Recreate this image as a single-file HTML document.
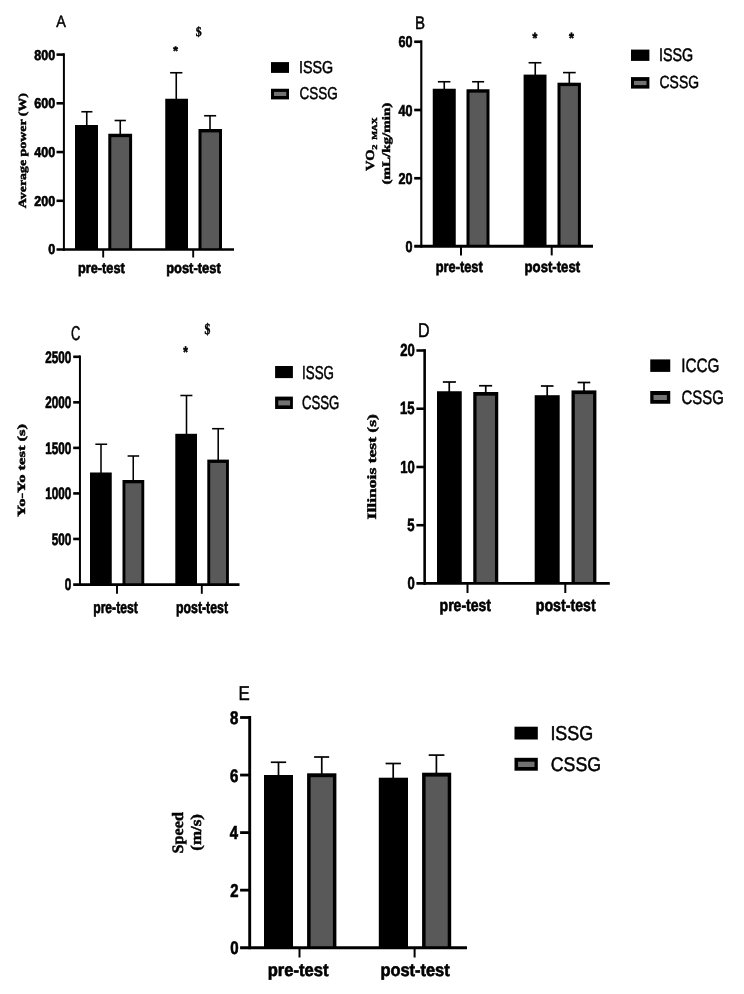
<!DOCTYPE html>
<html lang="en"><head><meta charset="utf-8"><title>Figure</title>
<style>html,body{margin:0;padding:0;background:#fff}svg{display:block}text{white-space:pre;text-rendering:geometricPrecision}</style></head>
<body><svg width="744" height="994" viewBox="0 0 744 994">
<rect width="744" height="994" fill="#fff"/>
<g>
<rect x="75" y="125" width="23" height="124.5" fill="#000"/>
<rect x="108.3" y="133.75" width="23.8" height="115.75" fill="#000"/>
<rect x="111.3" y="137.15" width="17.8" height="112.35" fill="#595959"/>
<rect x="165.25" y="98.75" width="22.75" height="150.75" fill="#000"/>
<rect x="198.5" y="129" width="23.5" height="120.5" fill="#000"/>
<rect x="201.5" y="132.4" width="17.5" height="117.1" fill="#595959"/>
<line x1="86.75" y1="111.75" x2="86.75" y2="126" stroke="#000" stroke-width="1.6"/>
<line x1="81.35" y1="111.75" x2="92.4" y2="111.75" stroke="#000" stroke-width="1.6"/>
<line x1="120.25" y1="120.5" x2="120.25" y2="134.75" stroke="#000" stroke-width="1.6"/>
<line x1="114.6" y1="120.5" x2="125.9" y2="120.5" stroke="#000" stroke-width="1.6"/>
<line x1="176.25" y1="72.75" x2="176.25" y2="99.75" stroke="#000" stroke-width="1.6"/>
<line x1="170.1" y1="72.75" x2="182.4" y2="72.75" stroke="#000" stroke-width="1.6"/>
<line x1="210" y1="115.75" x2="210" y2="130" stroke="#000" stroke-width="1.6"/>
<line x1="204.1" y1="115.75" x2="216.15" y2="115.75" stroke="#000" stroke-width="1.6"/>
<line x1="63.9" y1="53.25" x2="63.9" y2="250.85" stroke="#000" stroke-width="2"/>
<line x1="56.5" y1="249.5" x2="234" y2="249.5" stroke="#000" stroke-width="2.7"/>
<line x1="56.5" y1="54.6" x2="63.9" y2="54.6" stroke="#000" stroke-width="2.56"/>
<line x1="56.5" y1="103.3" x2="63.9" y2="103.3" stroke="#000" stroke-width="2.56"/>
<line x1="56.5" y1="152.05" x2="63.9" y2="152.05" stroke="#000" stroke-width="2.56"/>
<line x1="56.5" y1="200.8" x2="63.9" y2="200.8" stroke="#000" stroke-width="2.56"/>
<line x1="103.2" y1="249.5" x2="103.2" y2="257.5" stroke="#000" stroke-width="1.9"/>
<line x1="193.2" y1="249.5" x2="193.2" y2="257.5" stroke="#000" stroke-width="1.9"/>
</g><g>
<text transform="translate(34.33,59.51) scale(0.88,1)" font-family='"Liberation Sans", sans-serif' font-weight="700" font-size="14.23" fill="#000" stroke="#000" stroke-width="0.65">800</text>
<text transform="translate(34.33,108.21) scale(0.88,1)" font-family='"Liberation Sans", sans-serif' font-weight="700" font-size="14.23" fill="#000" stroke="#000" stroke-width="0.65">600</text>
<text transform="translate(34.33,156.96) scale(0.88,1)" font-family='"Liberation Sans", sans-serif' font-weight="700" font-size="14.23" fill="#000" stroke="#000" stroke-width="0.65">400</text>
<text transform="translate(34.33,205.71) scale(0.88,1)" font-family='"Liberation Sans", sans-serif' font-weight="700" font-size="14.23" fill="#000" stroke="#000" stroke-width="0.65">200</text>
<text transform="translate(48.17,254.41) scale(0.88,1)" font-family='"Liberation Sans", sans-serif' font-weight="700" font-size="14.23" fill="#000" stroke="#000" stroke-width="0.65">0</text>
<text transform="translate(77.92,273.09) scale(0.85,1)" font-family='"Liberation Sans", sans-serif' font-weight="700" font-size="15.03" fill="#000" stroke="#000" stroke-width="0.65">pre-test</text>
<text transform="translate(166.16,273.09) scale(0.86,1)" font-family='"Liberation Sans", sans-serif' font-weight="700" font-size="15.03" fill="#000" stroke="#000" stroke-width="0.65">post-test</text>
<text transform="translate(56.2,26.7) scale(0.87,1)" font-family='"Liberation Sans", sans-serif' font-weight="400" font-size="16.52" fill="#000" stroke="#000" stroke-width="0.5">A</text>
<rect x="271" y="62.1" width="18" height="10.8" fill="#000"/>
<rect x="271" y="88.75" width="18" height="10.65" fill="#000"/>
<rect x="274" y="91.9" width="12.25" height="4.1" fill="#727272"/>
<text transform="translate(298.96,73.33) scale(0.83,1)" font-family='"Liberation Sans", sans-serif' font-weight="400" font-size="17.25" fill="#000" stroke="#000" stroke-width="0.5">ISSG</text>
<text transform="translate(299.57,99.23) scale(0.79,1)" font-family='"Liberation Sans", sans-serif' font-weight="400" font-size="17.11" fill="#000" stroke="#000" stroke-width="0.5">CSSG</text>
<text transform="translate(195.69,35.71) scale(0.89,1)" font-family='"Liberation Serif", serif' font-weight="700" font-size="13.21" fill="#000" stroke="#000" stroke-width="0.45">$</text>
<text transform="translate(173.34,55.08) scale(0.95,1)" font-family='"Liberation Sans", sans-serif' font-weight="700" font-size="12.43" fill="#000" stroke="#000" stroke-width="0.65">*</text>
<text transform="translate(26.2,208.14) rotate(-90) scale(1.2715,1)" font-family='"Liberation Serif", serif' font-weight="700" font-size="10.91" fill="#000" stroke="#000" stroke-width="0.45">Average power (W)</text>
</g>
<g>
<rect x="432.75" y="88.75" width="23" height="157.5" fill="#000"/>
<rect x="466.5" y="89.25" width="23" height="157" fill="#000"/>
<rect x="469.5" y="92.65" width="17" height="153.6" fill="#595959"/>
<rect x="523.6" y="74.6" width="22.9" height="171.65" fill="#000"/>
<rect x="557.5" y="82.7" width="23.4" height="163.55" fill="#000"/>
<rect x="560.5" y="86.1" width="17.4" height="160.15" fill="#595959"/>
<line x1="444.25" y1="81.75" x2="444.25" y2="89.75" stroke="#000" stroke-width="1.6"/>
<line x1="437.85" y1="81.75" x2="450.4" y2="81.75" stroke="#000" stroke-width="1.6"/>
<line x1="478.25" y1="81.75" x2="478.25" y2="90.25" stroke="#000" stroke-width="1.6"/>
<line x1="472.1" y1="81.75" x2="484.15" y2="81.75" stroke="#000" stroke-width="1.6"/>
<line x1="535.25" y1="62.75" x2="535.25" y2="75.6" stroke="#000" stroke-width="1.6"/>
<line x1="528.6" y1="62.75" x2="541.4" y2="62.75" stroke="#000" stroke-width="1.6"/>
<line x1="569.3" y1="72.6" x2="569.3" y2="83.7" stroke="#000" stroke-width="1.6"/>
<line x1="563" y1="72.6" x2="575.7" y2="72.6" stroke="#000" stroke-width="1.6"/>
<line x1="421.3" y1="40.35" x2="421.3" y2="247.65" stroke="#000" stroke-width="2.15"/>
<line x1="414.2" y1="246.25" x2="593" y2="246.25" stroke="#000" stroke-width="2.8"/>
<line x1="414.2" y1="41.75" x2="421.3" y2="41.75" stroke="#000" stroke-width="2.66"/>
<line x1="414.2" y1="110" x2="421.3" y2="110" stroke="#000" stroke-width="2.66"/>
<line x1="414.2" y1="178.25" x2="421.3" y2="178.25" stroke="#000" stroke-width="2.66"/>
<line x1="461" y1="246.25" x2="461" y2="255.4" stroke="#000" stroke-width="2"/>
<line x1="551.7" y1="246.25" x2="551.7" y2="255.4" stroke="#000" stroke-width="2"/>
</g><g>
<text transform="translate(398.46,47.39) scale(0.8,1)" font-family='"Liberation Sans", sans-serif' font-weight="700" font-size="15.77" fill="#000" stroke="#000" stroke-width="0.65">60</text>
<text transform="translate(398.46,115.64) scale(0.8,1)" font-family='"Liberation Sans", sans-serif' font-weight="700" font-size="15.77" fill="#000" stroke="#000" stroke-width="0.65">40</text>
<text transform="translate(398.46,183.89) scale(0.8,1)" font-family='"Liberation Sans", sans-serif' font-weight="700" font-size="15.77" fill="#000" stroke="#000" stroke-width="0.65">20</text>
<text transform="translate(405.48,251.89) scale(0.8,1)" font-family='"Liberation Sans", sans-serif' font-weight="700" font-size="15.77" fill="#000" stroke="#000" stroke-width="0.65">0</text>
<text transform="translate(435.66,272.1) scale(0.83,1)" font-family='"Liberation Sans", sans-serif' font-weight="700" font-size="15.49" fill="#000" stroke="#000" stroke-width="0.65">pre-test</text>
<text transform="translate(524.55,272.1) scale(0.85,1)" font-family='"Liberation Sans", sans-serif' font-weight="700" font-size="15.49" fill="#000" stroke="#000" stroke-width="0.65">post-test</text>
<text transform="translate(415.05,29) scale(0.83,1)" font-family='"Liberation Sans", sans-serif' font-weight="400" font-size="18.12" fill="#000" stroke="#000" stroke-width="0.5">B</text>
<rect x="631" y="49.6" width="18.4" height="11.3" fill="#000"/>
<rect x="631" y="77.1" width="18.4" height="11.5" fill="#000"/>
<rect x="634" y="80.9" width="12.5" height="4.2" fill="#727272"/>
<text transform="translate(658.96,61.32) scale(0.79,1)" font-family='"Liberation Sans", sans-serif' font-weight="400" font-size="18.17" fill="#000" stroke="#000" stroke-width="0.5">ISSG</text>
<text transform="translate(659.55,88.42) scale(0.79,1)" font-family='"Liberation Sans", sans-serif' font-weight="400" font-size="17.61" fill="#000" stroke="#000" stroke-width="0.5">CSSG</text>
<text transform="translate(532.44,42.76) scale(0.83,1)" font-family='"Liberation Sans", sans-serif' font-weight="700" font-size="14.86" fill="#000" stroke="#000" stroke-width="0.65">*</text>
<text transform="translate(568.94,42.76) scale(0.85,1)" font-family='"Liberation Sans", sans-serif' font-weight="700" font-size="14.86" fill="#000" stroke="#000" stroke-width="0.65">*</text>
<text transform="translate(373.92,171.05) rotate(-90) scale(1.1798,1)" font-family='"Liberation Serif", serif' font-weight="700" font-size="12.3" fill="#000" stroke="#000" stroke-width="0.45">VO</text>
<text transform="translate(376.9,149.72) rotate(-90) scale(1.4405,1)" font-family='"Liberation Serif", serif' font-weight="700" font-size="7.27" fill="#000" stroke="#000" stroke-width="0.45">2</text>
<text transform="translate(376.9,139.84) rotate(-90) scale(1.2361,1)" font-family='"Liberation Serif", serif' font-weight="700" font-size="7.58" fill="#000" stroke="#000" stroke-width="0.45">MAX</text>
<text transform="translate(389.68,184.58) rotate(-90) scale(1.3116,1)" font-family='"Liberation Serif", serif' font-weight="700" font-size="11.48" fill="#000" stroke="#000" stroke-width="0.45">(mL/kg/min)</text>
</g>
<g>
<rect x="90" y="472.5" width="21.75" height="112" fill="#000"/>
<rect x="122.5" y="480" width="21.75" height="104.5" fill="#000"/>
<rect x="125.4" y="483.3" width="15.95" height="101.2" fill="#595959"/>
<rect x="175.3" y="433.8" width="21.7" height="150.7" fill="#000"/>
<rect x="207.3" y="459.6" width="21.6" height="124.9" fill="#000"/>
<rect x="210.2" y="462.9" width="15.8" height="121.6" fill="#595959"/>
<line x1="101" y1="444.25" x2="101" y2="473.5" stroke="#000" stroke-width="1.55"/>
<line x1="95.35" y1="444.25" x2="107.15" y2="444.25" stroke="#000" stroke-width="1.55"/>
<line x1="133.25" y1="456" x2="133.25" y2="481" stroke="#000" stroke-width="1.55"/>
<line x1="127.6" y1="456" x2="139.15" y2="456" stroke="#000" stroke-width="1.55"/>
<line x1="186.5" y1="395.5" x2="186.5" y2="434.8" stroke="#000" stroke-width="1.55"/>
<line x1="180.35" y1="395.5" x2="192.4" y2="395.5" stroke="#000" stroke-width="1.55"/>
<line x1="218.2" y1="428.7" x2="218.2" y2="460.6" stroke="#000" stroke-width="1.55"/>
<line x1="212.1" y1="428.7" x2="224.1" y2="428.7" stroke="#000" stroke-width="1.55"/>
<line x1="79.95" y1="355.43" x2="79.95" y2="585.88" stroke="#000" stroke-width="2"/>
<line x1="73.2" y1="584.5" x2="239.5" y2="584.5" stroke="#000" stroke-width="2.75"/>
<line x1="73.2" y1="356.8" x2="79.95" y2="356.8" stroke="#000" stroke-width="2.61"/>
<line x1="73.2" y1="402.34" x2="79.95" y2="402.34" stroke="#000" stroke-width="2.61"/>
<line x1="73.2" y1="447.88" x2="79.95" y2="447.88" stroke="#000" stroke-width="2.61"/>
<line x1="73.2" y1="493.42" x2="79.95" y2="493.42" stroke="#000" stroke-width="2.61"/>
<line x1="73.2" y1="538.96" x2="79.95" y2="538.96" stroke="#000" stroke-width="2.61"/>
<line x1="117" y1="584.5" x2="117" y2="593.8" stroke="#000" stroke-width="1.9"/>
<line x1="201.8" y1="584.5" x2="201.8" y2="593.8" stroke="#000" stroke-width="1.9"/>
</g><g>
<text transform="translate(45.19,362.78) scale(0.7,1)" font-family='"Liberation Sans", sans-serif' font-weight="700" font-size="16.76" fill="#000" stroke="#000" stroke-width="0.65">2500</text>
<text transform="translate(45.19,408.32) scale(0.7,1)" font-family='"Liberation Sans", sans-serif' font-weight="700" font-size="16.76" fill="#000" stroke="#000" stroke-width="0.65">2000</text>
<text transform="translate(45.19,453.86) scale(0.7,1)" font-family='"Liberation Sans", sans-serif' font-weight="700" font-size="16.76" fill="#000" stroke="#000" stroke-width="0.65">1500</text>
<text transform="translate(45.19,499.4) scale(0.7,1)" font-family='"Liberation Sans", sans-serif' font-weight="700" font-size="16.76" fill="#000" stroke="#000" stroke-width="0.65">1000</text>
<text transform="translate(51.73,544.94) scale(0.7,1)" font-family='"Liberation Sans", sans-serif' font-weight="700" font-size="16.76" fill="#000" stroke="#000" stroke-width="0.65">500</text>
<text transform="translate(64.69,590.48) scale(0.7,1)" font-family='"Liberation Sans", sans-serif' font-weight="700" font-size="16.76" fill="#000" stroke="#000" stroke-width="0.65">0</text>
<text transform="translate(93.21,612.5) scale(0.73,1)" font-family='"Liberation Sans", sans-serif' font-weight="700" font-size="16.65" fill="#000" stroke="#000" stroke-width="0.65">pre-test</text>
<text transform="translate(175.99,612.5) scale(0.74,1)" font-family='"Liberation Sans", sans-serif' font-weight="700" font-size="16.65" fill="#000" stroke="#000" stroke-width="0.65">post-test</text>
<text transform="translate(71.1,339.75) scale(0.65,1)" font-family='"Liberation Sans", sans-serif' font-weight="400" font-size="20" fill="#000" stroke="#000" stroke-width="0.5">C</text>
<rect x="275.1" y="366" width="17.8" height="12.1" fill="#000"/>
<rect x="275.1" y="396.6" width="17.8" height="12.4" fill="#000"/>
<rect x="278.25" y="400.4" width="11.85" height="5" fill="#727272"/>
<text transform="translate(302.05,378.56) scale(0.71,1)" font-family='"Liberation Sans", sans-serif' font-weight="400" font-size="18.8" fill="#000" stroke="#000" stroke-width="0.5">ISSG</text>
<text transform="translate(301.94,408.81) scale(0.7,1)" font-family='"Liberation Sans", sans-serif' font-weight="400" font-size="18.87" fill="#000" stroke="#000" stroke-width="0.5">CSSG</text>
<text transform="translate(204.49,333.95) scale(0.76,1)" font-family='"Liberation Serif", serif' font-weight="700" font-size="15.35" fill="#000" stroke="#000" stroke-width="0.45">$</text>
<text transform="translate(183.24,357.04) scale(0.78,1)" font-family='"Liberation Sans", sans-serif' font-weight="700" font-size="15.14" fill="#000" stroke="#000" stroke-width="0.65">*</text>
<text transform="translate(24.9,516.95) rotate(-90) scale(1.5096,1)" font-family='"Liberation Serif", serif' font-weight="700" font-size="10.99" fill="#000" stroke="#000" stroke-width="0.45">Yo-Yo test (s)</text>
</g>
<g>
<rect x="437" y="391.25" width="24.75" height="192.2" fill="#000"/>
<rect x="473.25" y="392" width="25" height="191.45" fill="#000"/>
<rect x="476.55" y="395.7" width="18.4" height="187.75" fill="#595959"/>
<rect x="534.7" y="395.2" width="25" height="188.25" fill="#000"/>
<rect x="571.5" y="390.4" width="24.9" height="193.05" fill="#000"/>
<rect x="574.8" y="394.1" width="18.3" height="189.35" fill="#595959"/>
<line x1="449.25" y1="382" x2="449.25" y2="392.25" stroke="#000" stroke-width="1.7"/>
<line x1="442.85" y1="382" x2="455.9" y2="382" stroke="#000" stroke-width="1.7"/>
<line x1="485.75" y1="385.75" x2="485.75" y2="393" stroke="#000" stroke-width="1.7"/>
<line x1="479.1" y1="385.75" x2="492.15" y2="385.75" stroke="#000" stroke-width="1.7"/>
<line x1="547.2" y1="386" x2="547.2" y2="396.2" stroke="#000" stroke-width="1.7"/>
<line x1="540.9" y1="386" x2="553.5" y2="386" stroke="#000" stroke-width="1.7"/>
<line x1="584" y1="382.5" x2="584" y2="391.4" stroke="#000" stroke-width="1.7"/>
<line x1="577.6" y1="382.5" x2="590.3" y2="382.5" stroke="#000" stroke-width="1.7"/>
<line x1="424.65" y1="349.15" x2="424.65" y2="584.8" stroke="#000" stroke-width="2.6"/>
<line x1="416.4" y1="583.45" x2="609.8" y2="583.45" stroke="#000" stroke-width="2.7"/>
<line x1="416.4" y1="350.5" x2="424.65" y2="350.5" stroke="#000" stroke-width="2.56"/>
<line x1="416.4" y1="408.74" x2="424.65" y2="408.74" stroke="#000" stroke-width="2.56"/>
<line x1="416.4" y1="466.98" x2="424.65" y2="466.98" stroke="#000" stroke-width="2.56"/>
<line x1="416.4" y1="525.2" x2="424.65" y2="525.2" stroke="#000" stroke-width="2.56"/>
<line x1="467.5" y1="583.45" x2="467.5" y2="593" stroke="#000" stroke-width="2"/>
<line x1="565.3" y1="583.45" x2="565.3" y2="593" stroke="#000" stroke-width="2"/>
</g><g>
<text transform="translate(400.24,356.23) scale(0.75,1)" font-family='"Liberation Sans", sans-serif' font-weight="700" font-size="17.46" fill="#000" stroke="#000" stroke-width="0.65">20</text>
<text transform="translate(400.05,414.46) scale(0.74,1)" font-family='"Liberation Sans", sans-serif' font-weight="700" font-size="17.71" fill="#000" stroke="#000" stroke-width="0.65">15</text>
<text transform="translate(400.24,472.71) scale(0.75,1)" font-family='"Liberation Sans", sans-serif' font-weight="700" font-size="17.46" fill="#000" stroke="#000" stroke-width="0.65">10</text>
<text transform="translate(407.29,530.92) scale(0.74,1)" font-family='"Liberation Sans", sans-serif' font-weight="700" font-size="17.71" fill="#000" stroke="#000" stroke-width="0.65">5</text>
<text transform="translate(407.48,589.18) scale(0.75,1)" font-family='"Liberation Sans", sans-serif' font-weight="700" font-size="17.46" fill="#000" stroke="#000" stroke-width="0.65">0</text>
<text transform="translate(439.59,611.21) scale(0.82,1)" font-family='"Liberation Sans", sans-serif' font-weight="700" font-size="17.11" fill="#000" stroke="#000" stroke-width="0.65">pre-test</text>
<text transform="translate(535.77,611.21) scale(0.83,1)" font-family='"Liberation Sans", sans-serif' font-weight="700" font-size="17.11" fill="#000" stroke="#000" stroke-width="0.65">post-test</text>
<text transform="translate(417.97,336.6) scale(0.81,1)" font-family='"Liberation Sans", sans-serif' font-weight="400" font-size="19.86" fill="#000" stroke="#000" stroke-width="0.5">D</text>
<rect x="650.25" y="359.4" width="20" height="12.5" fill="#000"/>
<rect x="650.25" y="391" width="20" height="12.75" fill="#000"/>
<rect x="653.5" y="395" width="13.4" height="5" fill="#727272"/>
<text transform="translate(681.13,372.06) scale(0.79,1)" font-family='"Liberation Sans", sans-serif' font-weight="400" font-size="19.37" fill="#000" stroke="#000" stroke-width="0.5">ICCG</text>
<text transform="translate(681.5,403.56) scale(0.77,1)" font-family='"Liberation Sans", sans-serif' font-weight="400" font-size="19.37" fill="#000" stroke="#000" stroke-width="0.5">CSSG</text>
<text transform="translate(375.9,519.41) rotate(-90) scale(1.3864,1)" font-family='"Liberation Serif", serif' font-weight="700" font-size="12.67" fill="#000" stroke="#000" stroke-width="0.45">Illinois test (s)</text>
</g>
<g>
<rect x="264" y="775" width="29" height="172.7" fill="#000"/>
<rect x="307.1" y="773.3" width="29.3" height="174.4" fill="#000"/>
<rect x="310.6" y="777.2" width="22.3" height="170.5" fill="#595959"/>
<rect x="378.8" y="777.7" width="29.2" height="170" fill="#000"/>
<rect x="422.1" y="772.7" width="29.1" height="175" fill="#000"/>
<rect x="425.6" y="776.6" width="22.1" height="171.1" fill="#595959"/>
<line x1="278.5" y1="762.25" x2="278.5" y2="776" stroke="#000" stroke-width="1.7"/>
<line x1="270.85" y1="762.25" x2="286.15" y2="762.25" stroke="#000" stroke-width="1.7"/>
<line x1="321.75" y1="757" x2="321.75" y2="774.3" stroke="#000" stroke-width="1.7"/>
<line x1="314.1" y1="757" x2="329.15" y2="757" stroke="#000" stroke-width="1.7"/>
<line x1="393.2" y1="763.5" x2="393.2" y2="778.7" stroke="#000" stroke-width="1.7"/>
<line x1="385.6" y1="763.5" x2="400.9" y2="763.5" stroke="#000" stroke-width="1.7"/>
<line x1="436.4" y1="755.1" x2="436.4" y2="773.7" stroke="#000" stroke-width="1.7"/>
<line x1="428.7" y1="755.1" x2="444.4" y2="755.1" stroke="#000" stroke-width="1.7"/>
<line x1="249.7" y1="716.02" x2="249.7" y2="949.18" stroke="#000" stroke-width="2.9"/>
<line x1="240.1" y1="947.7" x2="467" y2="947.7" stroke="#000" stroke-width="2.95"/>
<line x1="240.1" y1="717.5" x2="249.7" y2="717.5" stroke="#000" stroke-width="2.8"/>
<line x1="240.1" y1="775.05" x2="249.7" y2="775.05" stroke="#000" stroke-width="2.8"/>
<line x1="240.1" y1="832.6" x2="249.7" y2="832.6" stroke="#000" stroke-width="2.8"/>
<line x1="240.1" y1="890.15" x2="249.7" y2="890.15" stroke="#000" stroke-width="2.8"/>
<line x1="299.5" y1="947.7" x2="299.5" y2="957.5" stroke="#000" stroke-width="2"/>
<line x1="414.6" y1="947.7" x2="414.6" y2="957.5" stroke="#000" stroke-width="2"/>
</g><g>
<text transform="translate(230,723.97) scale(0.82,1)" font-family='"Liberation Sans", sans-serif' font-weight="700" font-size="18.31" fill="#000" stroke="#000" stroke-width="0.65">8</text>
<text transform="translate(230.08,781.52) scale(0.82,1)" font-family='"Liberation Sans", sans-serif' font-weight="700" font-size="18.31" fill="#000" stroke="#000" stroke-width="0.65">6</text>
<text transform="translate(229.63,839.25) scale(0.79,1)" font-family='"Liberation Sans", sans-serif' font-weight="700" font-size="18.84" fill="#000" stroke="#000" stroke-width="0.65">4</text>
<text transform="translate(230.15,896.8) scale(0.8,1)" font-family='"Liberation Sans", sans-serif' font-weight="700" font-size="18.57" fill="#000" stroke="#000" stroke-width="0.65">2</text>
<text transform="translate(230.15,954.17) scale(0.82,1)" font-family='"Liberation Sans", sans-serif' font-weight="700" font-size="18.31" fill="#000" stroke="#000" stroke-width="0.65">0</text>
<text transform="translate(267.68,976.01) scale(0.92,1)" font-family='"Liberation Sans", sans-serif' font-weight="700" font-size="18.03" fill="#000" stroke="#000" stroke-width="0.65">pre-test</text>
<text transform="translate(380.43,976.01) scale(0.91,1)" font-family='"Liberation Sans", sans-serif' font-weight="700" font-size="18.03" fill="#000" stroke="#000" stroke-width="0.65">post-test</text>
<text transform="translate(238.41,700.3) scale(0.85,1)" font-family='"Liberation Sans", sans-serif' font-weight="400" font-size="19.86" fill="#000" stroke="#000" stroke-width="0.5">E</text>
<rect x="514.5" y="726.7" width="23.3" height="12.8" fill="#000"/>
<rect x="514.5" y="757.8" width="23.3" height="12.9" fill="#000"/>
<rect x="518" y="761.7" width="16.5" height="5.3" fill="#727272"/>
<text transform="translate(550.38,739.8) scale(0.89,1)" font-family='"Liberation Sans", sans-serif' font-weight="400" font-size="20.14" fill="#000" stroke="#000" stroke-width="0.5">ISSG</text>
<text transform="translate(550.81,770.5) scale(0.9,1)" font-family='"Liberation Sans", sans-serif' font-weight="400" font-size="19.72" fill="#000" stroke="#000" stroke-width="0.5">CSSG</text>
<text transform="translate(182.8,853.49) rotate(-90) scale(1.0199,1)" font-family='"Liberation Serif", serif' font-weight="700" font-size="15.91" fill="#000" stroke="#000" stroke-width="0.45">Speed</text>
<text transform="translate(200.5,850.76) rotate(-90) scale(1.1216,1)" font-family='"Liberation Serif", serif' font-weight="700" font-size="15.11" fill="#000" stroke="#000" stroke-width="0.45">(m/s)</text>
</g>
</svg></body></html>
